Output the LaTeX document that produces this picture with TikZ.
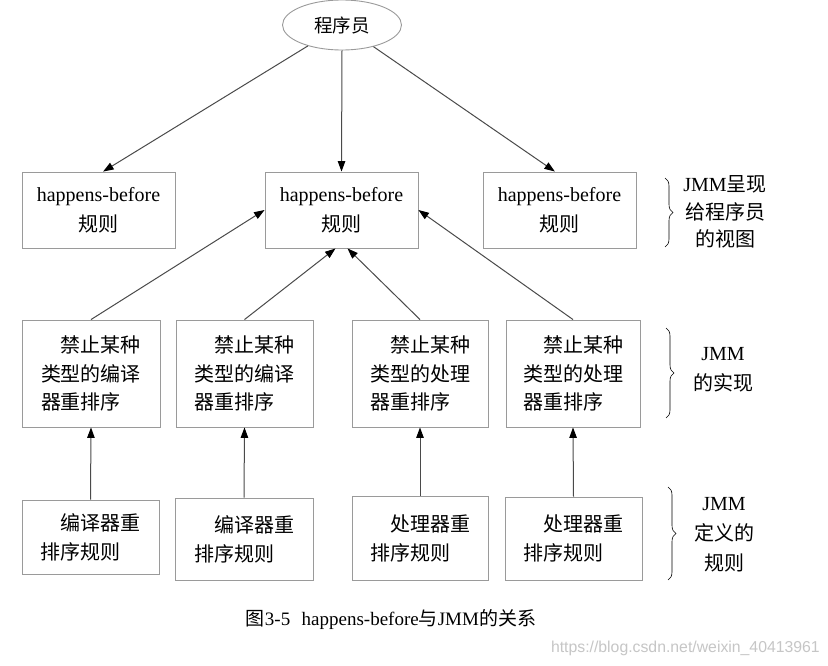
\documentclass[tikz,border=0pt]{standalone}
\usepackage{fontspec}
\setmainfont{Liberation Serif}
\newfontfamily\cjk{Noto Sans CJK SC}
\newfontfamily\wmfont{Liberation Sans}
\usetikzlibrary{shapes.geometric,arrows.meta,decorations.pathreplacing,calc}
\definecolor{boxgray}{HTML}{9A9A9A}
\definecolor{linegray}{HTML}{4A4A4A}
\newcommand{\zh}[1]{{\cjk #1}}
\begin{document}
\begin{tikzpicture}[x=1pt,y=-1pt,
  box/.style={draw=boxgray, line width=0.9pt, inner sep=0pt, align=center},
  topbox/.style={box, minimum width=153pt, minimum height=76pt, font=\fontsize{20}{30}\selectfont},
  midbox/.style={box, align=left, minimum height=107pt, font=\fontsize{20}{28.5}\selectfont},
  botbox/.style={box, align=left, font=\fontsize{20}{29}\selectfont},
  conn/.style={draw=linegray, line width=1pt, -{Triangle[length=10.5pt,width=7.5pt,color=black]}},
  lbl/.style={align=center, inner sep=0pt},
  brc/.style={draw=black, line width=0.6pt, decorate, decoration={brace, amplitude=8pt, aspect=0.5}}
]
\useasboundingbox[fill=white] (0,0) rectangle (828,666);

% programmer ellipse
\node[ellipse, draw=boxgray, line width=0.9pt, minimum width=119pt, minimum height=50pt, inner sep=0pt,
  font=\fontsize{18.5}{22}\selectfont] (P) at (342,25) {\zh{程序员}};

% top row
\node[topbox] (A) at (98.5,210) {happens-before\\\zh{规则}};
\node[topbox] (B) at (341.5,210) {happens-before\\\zh{规则}};
\node[topbox] (C) at (559.5,210) {happens-before\\\zh{规则}};

% middle row
\node[midbox, minimum width=138pt] (D) at (91,373.5) {\hspace{1em}\zh{禁止某种}\\\zh{类型的编译}\\\zh{器重排序}};
\node[midbox, minimum width=137pt] (E) at (244.5,373.5) {\hspace{1em}\zh{禁止某种}\\\zh{类型的编译}\\\zh{器重排序}};
\node[midbox, minimum width=136pt] (F) at (420,373.5) {\hspace{1em}\zh{禁止某种}\\\zh{类型的处理}\\\zh{器重排序}};
\node[midbox, minimum width=134pt] (G) at (573,373.5) {\hspace{1em}\zh{禁止某种}\\\zh{类型的处理}\\\zh{器重排序}};

% bottom row
\node[botbox, minimum width=137pt, minimum height=74pt] (H) at (90.5,537) {\hspace{1em}\zh{编译器重}\\\zh{排序规则}};
\node[botbox, minimum width=138pt, minimum height=82pt] (I) at (244,539) {\hspace{1em}\zh{编译器重}\\\zh{排序规则}};
\node[botbox, minimum width=136pt, minimum height=84pt] (J) at (420,538) {\hspace{1em}\zh{处理器重}\\\zh{排序规则}};
\node[botbox, minimum width=137pt, minimum height=83pt] (K) at (573.5,538.5) {\hspace{1em}\zh{处理器重}\\\zh{排序规则}};

% connectors from programmer
\draw[conn] (P) -- ($(A.north west)!0.53!(A.north east)$);
\draw[conn] (P.south) -- (B.north);
\draw[conn] (P) -- ($(C.north west)!0.47!(C.north east)$);

% connectors to central rule box
\draw[conn] (D.north) -- (B.west);
\draw[conn] (E.north) -- ($(B.south)+(-6,0)$);
\draw[conn] (F.north) -- ($(B.south)+(6,0)$);
\draw[conn] (G.north) -- (B.east);

% vertical connectors
\draw[conn] (H.north) -- (D.south);
\draw[conn] (I.north) -- (E.south);
\draw[conn] (J.north) -- (F.south);
\draw[conn] (K.north) -- (G.south);

% braces
\coordinate (b1t) at (665,178); \coordinate (b1b) at (665,247);
\coordinate (b2t) at (666,328); \coordinate (b2b) at (666,418);
\coordinate (b3t) at (668,487); \coordinate (b3b) at (668,580);
\draw[brc] (b1t) -- (b1b);
\draw[brc] (b2t) -- (b2b);
\draw[brc] (b3t) -- (b3b);

% side labels
\node[lbl, font=\fontsize{20}{27.5}\selectfont] (L1) at (725,212) {JMM\zh{呈现}\\\zh{给程序员}\\\zh{的视图}};
\node[lbl, font=\fontsize{20}{30}\selectfont] (L2) at (723,370) {JMM\\\zh{的实现}};
\node[lbl, font=\fontsize{20}{30}\selectfont] (L3) at (724,535) {JMM\\\zh{定义的}\\\zh{规则}};

% caption
\node[inner sep=0pt, font=\fontsize{19}{22}\selectfont] (cap) at (391,620) {\zh{图}3-5\hspace{0.6em}happens-before\zh{与}JMM\zh{的关系}};

% watermark
\node[inner sep=0pt, anchor=east, text=gray!45, font=\wmfont\fontsize{15.8}{18}\selectfont] (wm) at (820,648) {https://blog.csdn.net/weixin\_40413961};
\end{tikzpicture}
\end{document}
